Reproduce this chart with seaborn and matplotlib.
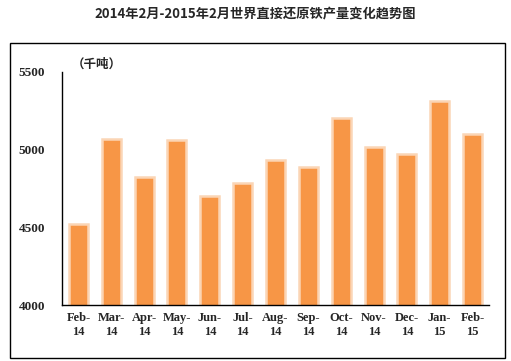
import pandas as pd
import matplotlib.pyplot as plt
import seaborn as sns
from matplotlib.patches import Rectangle

months = ['Feb-\n14', 'Mar-\n14', 'Apr-\n14', 'May-\n14', 'Jun-\n14', 'Jul-\n14', 'Aug-\n14',
          'Sep-\n14', 'Oct-\n14', 'Nov-\n14', 'Dec-\n14', 'Jan-\n15', 'Feb-\n15']
output = [4522, 5070, 4825, 5063, 4703, 4785, 4933, 4888, 5205, 5018, 4973, 5312, 5100]

df = pd.DataFrame({'month': months, 'output': output})

sns.set_style('white')
plt.rcParams['font.family'] = ['Liberation Serif', 'Noto Sans CJK SC']

fig = plt.figure(figsize=(5.11, 3.61), dpi=100)
ax = fig.add_axes([62 / 511, 1 - 305 / 361, (489 - 62) / 511, (305 - 72) / 361])

sns.barplot(data=df, x='month', y='output', color='#F79646', saturation=1,
            width=0.58, edgecolor='#FBD5B5', linewidth=1.8, ax=ax)

ax.set_ylim(4000, 5500)
ax.set_yticks([4000, 4500, 5000, 5500])
ax.set_xlabel('')
ax.set_ylabel('')
for s in ['top', 'right']:
    ax.spines[s].set_visible(False)
for s in ['left', 'bottom']:
    ax.spines[s].set_color('black')
    ax.spines[s].set_linewidth(1)
ax.tick_params(axis='y', length=4, width=1, color='black', direction='out', pad=8, labelsize=9.5)
ax.tick_params(axis='x', length=0, pad=5, labelsize=9)
for lab in ax.get_yticklabels() + ax.get_xticklabels():
    lab.set_fontweight('bold')

fig.text(0.5, 1 - 14 / 361, '2014年2月-2015年2月世界直接还原铁产量变化趋势图',
         ha='center', va='center', fontsize=9.5, fontweight='bold',
         family=['Noto Sans CJK SC', 'DejaVu Sans'])
fig.text(72 / 511, 1 - 64 / 361, '（千吨）', ha='left', va='center', fontsize=9,
         fontweight='bold', family=['Noto Sans CJK SC', 'DejaVu Sans'])

fig.patches.append(Rectangle((10 / 511, 1 - 358 / 361), 495 / 511, 315 / 361,
                             transform=fig.transFigure, fill=False,
                             edgecolor='black', linewidth=1))

fig.savefig('out.png', dpi=100)
